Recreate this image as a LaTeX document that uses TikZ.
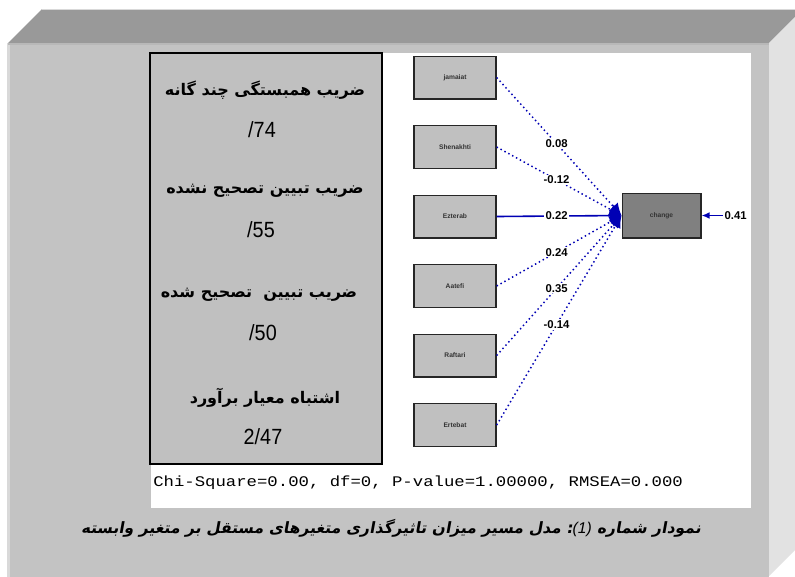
\documentclass[tikz,border=0pt]{standalone}
\usepackage{fontspec}
\usepackage{graphicx}
\usetikzlibrary{arrows.meta}
\TeXXeTstate=1
\newfontfamily\fa[Script=Arabic]{DejaVu Sans}
\newfontfamily\facap[Script=Arabic,FakeSlant=0.18]{DejaVu Sans Bold}
\newfontfamily\numfont[FakeStretch=0.9]{Liberation Sans}
\newfontfamily\capnum{Liberation Sans}
\newfontfamily\monof{Liberation Mono}
\definecolor{topc}{HTML}{999999}
\definecolor{frontc}{HTML}{C3C3C3}
\definecolor{sidec}{HTML}{E2E2E2}
\definecolor{panelc}{HTML}{C0C0C0}
\definecolor{tgtc}{HTML}{808080}
\definecolor{linec}{HTML}{0000B4}
\tikzset{
  panel/.style={draw=black, line width=1.1pt, fill=panelc, minimum width=174pt, minimum height=308pt, inner sep=0pt},
  fatext/.style={font=\fa\bfseries\fontsize{12}{14}\selectfont, inner sep=0pt},
  numtext/.style={font=\numfont\fontsize{16.5}{18}\selectfont, inner sep=0pt},
  varbox/.style={draw=black!85, line width=1pt, fill=panelc, minimum width=61.5pt, minimum height=32pt, inner sep=0pt, font=\capnum\bfseries\fontsize{5}{6}\selectfont, text=black!80},
  tgtbox/.style={draw=black!85, line width=1pt, fill=tgtc, minimum width=59pt, minimum height=33.5pt, inner sep=0pt, font=\capnum\bfseries\fontsize{5}{6}\selectfont, text=black!80},
  dotpath/.style={draw=linec, line width=1.1pt, dash pattern=on 1.1pt off 2.2pt, -{Latex[length=9pt,width=9pt]}},
  solidpath/.style={draw=linec, line width=1.2pt, -{Latex[length=9pt,width=9pt]}},
  lbl/.style={fill=white, inner sep=0.8pt, font=\capnum\bfseries\fontsize{8.5}{9}\selectfont, pos=0.48}
}
\begin{document}
\begin{tikzpicture}[x=0.75pt,y=-0.75pt]
\useasboundingbox (0,0) rectangle (795,576);
\clip (0,0) rectangle (795,576);
\fill[white] (0,0) rectangle (795,576);
% 3D frame
\fill[topc] (8,43) -- (42,9) -- (803,9) -- (769,43) -- cycle;
\draw[white!85!black, line width=0.6pt] (42,9) -- (803,9);
\fill[sidec] (769,43) -- (803,9) -- (803,542) -- (769,576) -- cycle;
\fill[frontc] (8,43) rectangle (769,580);
\fill[white!85!black] (7,43) rectangle (9.5,580);
\fill[white!72!black] (8,43) rectangle (769,45);
% white area
\fill[white] (151,53) rectangle (751,508);
% statistics panel
\node[panel] (stats) at (266,258.5) {};
\node[fatext] (t1) at (265,90) {\beginR ضریب همبستگی چند گانه\endR};
\node[numtext] (n1) at (262,130) {/74};
\node[fatext] (t2) at (265,191) {\beginR ضریب تبیین تصحیح نشده\endR};
\node[numtext] (n2) at (261,230) {/55};
\node[fatext] (t3) at (259,295) {\beginR ضریب تبیین \ تصحیح شده\endR};
\node[numtext] (n3) at (263,333) {/50};
\node[fatext] (t4) at (265,398) {\beginR اشتباه معیار برآورد\endR};
\node[numtext] (n4) at (263,437) {2/47};
% path diagram
\node[varbox] (v1) at (455,77.5) {jamaiat};
\node[varbox] (v2) at (455,147) {Shenakhti};
\node[varbox] (v3) at (455,216.5) {Ezterab};
\node[varbox] (v4) at (455,286) {Aatefi};
\node[varbox] (v5) at (455,355.5) {Raftari};
\node[varbox] (v6) at (455,425) {Ertebat};
\node[tgtbox] (tg) at (661.5,215.5) {change};
\draw[dotpath] (v1.east) -- node[lbl] {0.08} (tg.west);
\draw[dotpath] (v2.east) -- node[lbl] {-0.12} (tg.west);
\draw[solidpath] (v3.east) -- node[lbl] {0.22} (tg.west);
\draw[dotpath] (v4.east) -- node[lbl] {0.24} (tg.west);
\draw[dotpath] (v5.east) -- node[lbl] {0.35} (tg.west);
\draw[dotpath] (v6.east) -- node[lbl] {-0.14} (tg.west);
\coordinate (err) at (723,215.5);
\draw[solidpath, -{Latex[length=6pt,width=5pt]}] (err) -- (tg.east);
\node[anchor=west, inner sep=1pt, font=\capnum\bfseries\fontsize{8.5}{9}\selectfont] (ev) at (err) {0.41};
% fit line
\node[anchor=west, inner sep=0pt, font=\monof\fontsize{11}{12}\selectfont] (fit) at (153,483) {\scalebox{1.18}[1]{Chi-Square=0.00, df=0, P-value=1.00000, RMSEA=0.000}};
% caption
\node[inner sep=0pt, font=\facap\fontsize{11.7}{14}\selectfont] (cap) at (391,528) {\beginR مدل مسیر میزان تاثیرگذاری متغیرهای مستقل بر متغیر وابسته\endR{} :{\capnum\itshape (1)} \beginR نمودار شماره\endR};
\end{tikzpicture}
\end{document}
